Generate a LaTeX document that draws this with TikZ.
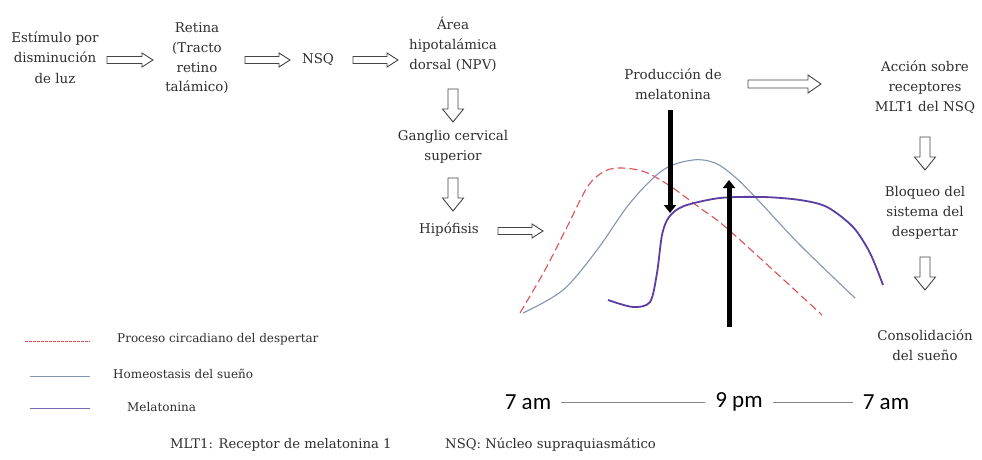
\documentclass[tikz,border=0pt]{standalone}
\usepackage{fontspec}
\setmainfont{DejaVu Serif}
\newfontfamily\serifA{DejaVu Serif}
\newfontfamily\calib{Carlito}
\usetikzlibrary{arrows.meta}
\definecolor{txt}{HTML}{2E2E2E}
\definecolor{arrowc}{HTML}{444444}
\definecolor{redc}{RGB}{222,80,80}
\definecolor{grayc}{RGB}{132,148,180}
\definecolor{purpc}{RGB}{92,62,162}
\definecolor{axisc}{HTML}{888888}
% hollow block arrows: x1 x2 y bodyhalf headhalf headlength
\newcommand\hollowright[6]{%
  \draw[hollow] (#1,{#3-#4}) -- ({#2-#6},{#3-#4}) -- ({#2-#6},{#3-#5}) -- (#2,#3)
    -- ({#2-#6},{#3+#5}) -- ({#2-#6},{#3+#4}) -- (#1,{#3+#4}) -- cycle;}
% x y1 y2 bodyhalf headhalf headlength
\newcommand\hollowdown[6]{%
  \draw[hollow] ({#1-#4},#2) -- ({#1-#4},{#3-#6}) -- ({#1-#5},{#3-#6}) -- (#1,#3)
    -- ({#1+#5},{#3-#6}) -- ({#1+#4},{#3-#6}) -- ({#1+#4},#2) -- cycle;}
\newcommand\ctext[1]{\begin{tabular}{@{}c@{}}#1\end{tabular}}
\begin{document}
\begin{tikzpicture}[x=1pt,y=-1pt,
  lbl/.style={text=txt, inner sep=0pt, font=\serifA\fontsize{13.4}{20}\selectfont},
  leg/.style={anchor=west, text=txt, inner sep=0pt, font=\serifA\fontsize{12}{16}\selectfont},
  foot/.style={anchor=west, text=txt, inner sep=0pt, font=\serifA\fontsize{13.2}{18}\selectfont},
  hour/.style={text=black, inner sep=0pt, font=\calib\fontsize{23}{26}\selectfont},
  hollow/.style={draw=arrowc, fill=white, line width=0.9pt, line join=miter},
  blk/.style={line width=5pt, -{Triangle[length=8pt,width=12pt]}},
  axisline/.style={draw=axisc, line width=0.9pt},
]
\useasboundingbox (0,0) rectangle (982,460);

% flow text
\node[lbl] (est) at (55,59) {\ctext{Estímulo por\\disminución\\de luz}};
\node[lbl] (ret) at (197,58) {\ctext{Retina\\(Tracto\\retino\\talámico)}};
\node[lbl] (nsq) at (318,60) {NSQ};
\node[lbl] (npv) at (453,46) {\ctext{Área\\hipotalámica\\dorsal (NPV)}};
\node[lbl] (gang) at (453,146) {\ctext{Ganglio cervical\\superior}};
\node[lbl] (hip) at (449,230) {Hipófisis};
\node[lbl] (prod) at (673,86) {\ctext{Producción de\\melatonina}};
\node[lbl] (acc) at (925,87) {\ctext{Acción sobre\\receptores\\MLT1 del NSQ}};
\node[lbl] (bloq) at (925,212) {\ctext{Bloqueo del\\sistema del\\despertar}};
\node[lbl] (cons) at (925,346) {\ctext{Consolidación\\del sueño}};

% hollow arrows
\hollowright{107}{153}{60}{3.5}{7}{11}
\hollowright{245}{290}{60}{3.5}{7}{11}
\hollowright{353}{398}{60}{3.5}{7}{11}
\hollowdown{453}{89}{122}{5}{10.5}{13}
\hollowdown{453}{178}{211}{5}{10.5}{13}
\hollowright{498}{543}{231}{3.5}{7}{11}
\hollowright{748}{821}{84}{4}{9}{13}
\hollowdown{925}{137}{170}{5}{10.5}{13}
\hollowdown{925}{257}{290}{5}{10.5}{13}

% curves
\draw[redc, line width=1.1pt, dash pattern=on 8pt off 4pt]
  plot[smooth, tension=0.55] coordinates {(520,313) (545,270) (568,225) (588,186) (605,171) (622,168) (645,172) (670,186) (700,208) (730,231) (822,315)};
\draw[grayc, line width=1.1pt]
  plot[smooth, tension=0.55] coordinates {(523,313) (563,290) (597,250) (630,203) (663,170) (693,160) (715,163) (735,177) (757,199) (800,245) (855,298)};
\draw[purpc, line width=1.8pt]
  plot[smooth, tension=0.5] coordinates {(608,300) (633,307) (650,302) (657,273) (662,235) (669,217) (684,206) (720,198) (763,197) (800,200) (827,207) (853,227) (870,253) (883,285)};

% black arrows
\coordinate (dtop) at (670,110);
\coordinate (dbot) at (670,213);
\draw[blk] (dtop) -- (dbot);
\coordinate (ubot) at (729,327);
\coordinate (utop) at (729,180);
\draw[blk] (ubot) -- (utop);

% legend
\coordinate (l1a) at (25,341); \coordinate (l1b) at (90,341);
\draw[redc, line width=0.8pt, dash pattern=on 2.5pt off 1.5pt] (l1a) -- (l1b);
\node[leg] (t1) at (117,339) {Proceso circadiano del despertar};
\coordinate (l2a) at (30,376); \coordinate (l2b) at (90,376);
\draw[grayc, line width=0.8pt] (l2a) -- (l2b);
\node[leg] (t2) at (113,374) {Homeostasis del sueño};
\coordinate (l3a) at (30,408); \coordinate (l3b) at (90,408);
\draw[purpc!80, line width=0.8pt] (l3a) -- (l3b);
\node[leg] (t3) at (127,407) {Melatonina};

% time axis
\node[hour] (am1) at (528,402) {7 am};
\node[hour] (pm) at (739,402) {9 pm};
\node[hour] (am2) at (886,402) {7 am};
\draw[axisline, shorten <=10pt, shorten >=10pt] (am1.east) -- (pm.west);
\draw[axisline, shorten <=10pt, shorten >=10pt] (pm.east) -- (am2.west);

% footnotes
\node[foot] (f1) at (170,445) {MLT1: Receptor de melatonina 1};
\node[foot] (f2) at (445,445) {NSQ: Núcleo supraquiasmático};
\end{tikzpicture}
\end{document}
